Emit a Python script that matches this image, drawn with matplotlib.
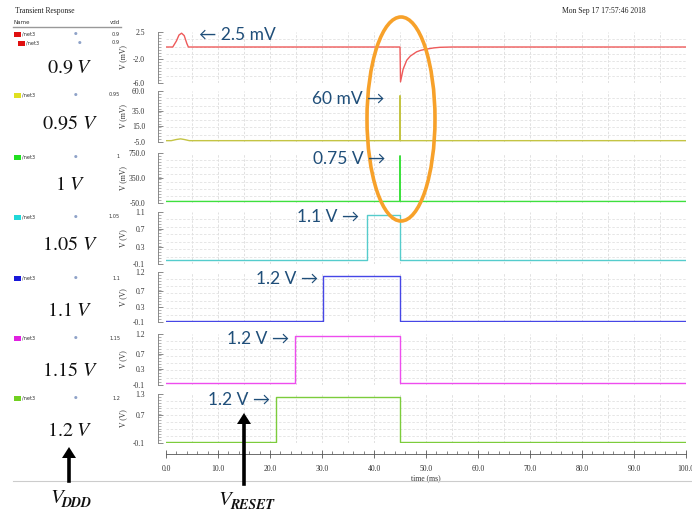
import matplotlib
matplotlib.use("Agg")
import matplotlib.pyplot as plt
from matplotlib.ticker import MultipleLocator, FixedLocator, LinearLocator, FormatStrFormatter
from matplotlib.patches import Ellipse, Rectangle
import numpy as np

# ---- data ----
vdd_values = ["0.9", "0.95", "1", "1.05", "1.1", "1.15", "1.2"]
vdd_labels = [r"$0.9\ V$", r"$0.95\ V$", r"$1\ V$", r"$1.05\ V$", r"$1.1\ V$", r"$1.15\ V$", r"$1.2\ V$"]

t_09 = [0, 1.3, 2.0, 2.5, 3.0, 3.5, 4.0, 4.3, 45.0, 45.1, 45.6, 46.3, 47.0, 48.2, 49.0, 50.1, 51.5, 52.7, 55.0, 100]
v_09 = [0, 0, 1.0, 2.0, 2.3, 1.9, 0.6, 0, 0, -5.8, -3.7, -2.2, -1.5, -0.8, -0.55, -0.35, -0.15, -0.05, 0, 0]      # mV

t_095 = [0, 1.0, 2.0, 2.8, 3.5, 4.5, 44.95, 45.0, 45.05, 100]
v_095 = [-3.3, -3.3, -1.8, -1.0, -1.8, -3.3, -3.3, 54.0, -3.3, -3.3]   # mV

t_1 = [0, 44.95, 45.0, 45.05, 100]
v_1 = [-25, -25, 705, -25, -25]   # mV

t_105 = [0, 38.7, 45.0, 100]
v_105 = [0.0, 1.04, 0.0, 0.0]     # V
t_11 = [0, 30.2, 45.0, 100]
v_11 = [-0.07, 1.1, -0.07, -0.07]
t_115 = [0, 24.8, 45.0, 100]
v_115 = [-0.05, 1.15, -0.05, -0.05]
t_12 = [0, 21.1, 45.0, 100]
v_12 = [-0.08, 1.21, -0.08, -0.08]

y_ticks = [[-6.0, -2.0, 2.5], [-5.0, 15.0, 35.0, 60.0], [-50.0, 350.0, 750.0],
           [-0.1, 0.3, 0.7, 1.1], [-0.1, 0.3, 0.7, 1.2], [-0.1, 0.3, 0.7, 1.2], [-0.1, 0.7, 1.3]]
y_units = ["V (mV)", "V (mV)", "V (mV)", "V (V)", "V (V)", "V (V)", "V (V)"]
x_ticks = [0, 10, 20, 30, 40, 50, 60, 70, 80, 90, 100]

annot_text = ["\u2190 2.5 mV", "60 mV \u2192", "0.75 V \u2192", "1.1 V \u2192",
              "1.2 V \u2192", "1.2 V \u2192", "1.2 V \u2192"]

line_colors = ["#ee5a5a", "#c4c444", "#3ee03e", "#55cccc", "#4646e6", "#ee4cee", "#7ccc3c"]
box_colors = ["#e01010", "#e0e020", "#20e020", "#20d8d8", "#1818d8", "#e020e0", "#70d020"]

W, H = 692, 512
def rect(x0, y0, x1, y1):
    return [x0 / W, 1 - y1 / H, (x1 - x0) / W, (y1 - y0) / H]
def fx(x):
    return x / W
def fy(y):
    return 1 - y / H

plt.rcParams['mathtext.fontset'] = 'stix'
serif = ['Liberation Serif', 'DejaVu Serif']
sans = ['Lato', 'DejaVu Sans']

fig = plt.figure(figsize=(6.92, 5.12), dpi=100)

panels_px = [(32, 83), (91, 142), (153, 203), (212, 264), (272, 322), (334, 385), (394, 443)]
series = [(t_09, v_09, None), (t_095, v_095, None), (t_1, v_1, None),
          (t_105, v_105, 'steps-post'), (t_11, v_11, 'steps-post'),
          (t_115, v_115, 'steps-post'), (t_12, v_12, 'steps-post')]

axes = []
for i, ((top, bot), (t, v, ds)) in enumerate(zip(panels_px, series)):
    ax = fig.add_axes(rect(166, top, 686, bot))
    axes.append(ax)
    lo, hi = y_ticks[i][0], y_ticks[i][-1]
    ax.set_xlim(0, 100)
    ax.set_ylim(lo, hi)
    # light dashed grid
    for gx in np.arange(5, 101, 5):
        ax.axvline(gx, color="#dcdcdc", lw=0.6, ls=(0, (3, 2)), zorder=0)
    for gy in np.linspace(lo, hi, 8)[1:-1]:
        ax.axhline(gy, color="#e2e2e2", lw=0.6, ls=(0, (3, 2)), zorder=0)
    if ds:
        ax.plot(t, v, color=line_colors[i], lw=1.0, drawstyle=ds, zorder=3)
    else:
        ax.plot(t, v, color=line_colors[i], lw=1.0, zorder=3)
    for s in ["top", "right", "bottom"]:
        ax.spines[s].set_visible(False)
    ax.spines["left"].set_position(("outward", 6))
    ax.spines["left"].set_color("#777777")
    ax.spines["left"].set_linewidth(0.6)
    ax.yaxis.set_major_locator(FixedLocator(y_ticks[i]))
    ax.yaxis.set_minor_locator(LinearLocator(18))
    ax.yaxis.set_major_formatter(FormatStrFormatter("%.1f"))
    ax.tick_params(axis="y", which="both", direction="in", colors="#777777",
                   labelcolor="#333333", labelsize=5.5, pad=9)
    ax.tick_params(axis="y", which="major", length=3.5, width=0.6)
    ax.tick_params(axis="y", which="minor", length=2, width=0.4)
    for lab in ax.get_yticklabels():
        lab.set_family(serif)
    ax.set_ylabel(y_units[i], fontsize=5.5, family=serif, color="#333333")
    ax.yaxis.set_label_coords(-0.075, 0.5)
    ax.set_facecolor("white")
    if i < 6:
        ax.set_xticks([])
    else:
        ax.spines["bottom"].set_visible(True)
        ax.spines["bottom"].set_position(("outward", 8))
        ax.spines["bottom"].set_color("#555555")
        ax.spines["bottom"].set_linewidth(0.6)
        ax.xaxis.set_major_locator(FixedLocator(x_ticks))
        ax.xaxis.set_minor_locator(MultipleLocator(2))
        ax.xaxis.set_major_formatter(FormatStrFormatter("%.1f"))
        ax.tick_params(axis="x", which="major", direction="inout", length=6, width=0.6,
                       colors="#555555", labelcolor="#333333", labelsize=5.5, pad=5)
        ax.tick_params(axis="x", which="minor", direction="in", length=2.5, width=0.5, colors="#555555")
        for lab in ax.get_xticklabels():
            lab.set_family(serif)
        ax.set_xlabel("time (ms)", fontsize=5.5, family=serif, color="#333333", labelpad=1)

# ---- header texts ----
fig.text(fx(15), fy(11), "Transient Response", fontsize=5.5, family=serif, va="center", color="#222222")
fig.text(fx(604), fy(11), "Mon Sep 17 17:57:46 2018", fontsize=5.5, family=serif,
         va="center", ha="center", color="#222222")
fig.text(fx(14), fy(22), "Name", fontsize=4, va="center", color="#333333")
fig.text(fx(120), fy(22), "vdd", fontsize=4, va="center", ha="right", color="#333333")
fig.add_artist(plt.Line2D([fx(13), fx(121)], [fy(27), fy(27)], color="#999999", lw=1.0))

# ---- legend column ----
entry_y = [34, 95, 157, 217, 278, 338, 398]
big_y = [68, 123, 185, 244, 311, 371, 431]
for i in range(7):
    rows = [(entry_y[i], 14)]
    if i == 0:
        rows.append((entry_y[i] + 9, 18))
    for (yy, xx) in rows:
        fig.add_artist(Rectangle((fx(xx), fy(yy + 2.5)), 7 / W, 5 / H, color=box_colors[i], lw=0))
        fig.text(fx(xx + 8), fy(yy), "/net3", fontsize=3.6, va="center", color="#333333")
        fig.text(fx(xx + 62), fy(yy), "\u25cf", fontsize=3, va="center", ha="center", color="#8ea2c8")
        fig.text(fx(120), fy(yy), vdd_values[i], fontsize=3.6, va="center", ha="right", color="#333333")
    fig.text(fx(70), fy(big_y[i]), vdd_labels[i], fontsize=14.5, ha="center", va="center", color="#111111")

# bottom separator and labels
fig.add_artist(plt.Line2D([fx(13), fx(692)], [fy(481), fy(481)], color="#cccccc", lw=0.8))
for (x0, y0, sub) in [(50, 503, "DDD"), (218, 505, "RESET")]:
    fig.text(fx(x0), fy(y0), "V", fontsize=15, family="STIXGeneral", style="italic",
             ha="left", va="baseline", color="#111111")
    fig.text(fx(x0 + 12), fy(y0 + 4), sub, fontsize=10, family="STIXGeneral", style="italic",
             weight="bold", ha="left", va="baseline", color="#111111")
fig.add_artist(plt.Line2D([fx(69), fx(69)], [fy(481), fy(456)], color="black", lw=2.6))
fig.add_artist(plt.Polygon([[fx(62), fy(458)], [fx(76), fy(458)], [fx(69), fy(447)]],
                           closed=True, color="black", lw=0))
fig.add_artist(plt.Line2D([fx(244), fx(244)], [fy(484), fy(422)], color="black", lw=2.6))
fig.add_artist(plt.Polygon([[fx(237), fy(424)], [fx(251), fy(424)], [fx(244), fy(413)]],
                           closed=True, color="black", lw=0))

# ---- annotations ----
annot_pos = [(237, 35), (348, 99), (349, 159), (328, 217), (287, 279), (258, 339), (239, 400)]
for txt, (xx, yy) in zip(annot_text, annot_pos):
    fig.text(fx(xx), fy(yy), txt, fontsize=12.5, family=sans, ha="center", va="center", color="#1f4e79")

fig.add_artist(Ellipse((fx(401), fy(119)), 68 / W, 204 / H, fill=False,
                       edgecolor="#f7a12a", lw=2.6))

fig.savefig("out.png", dpi=100)
